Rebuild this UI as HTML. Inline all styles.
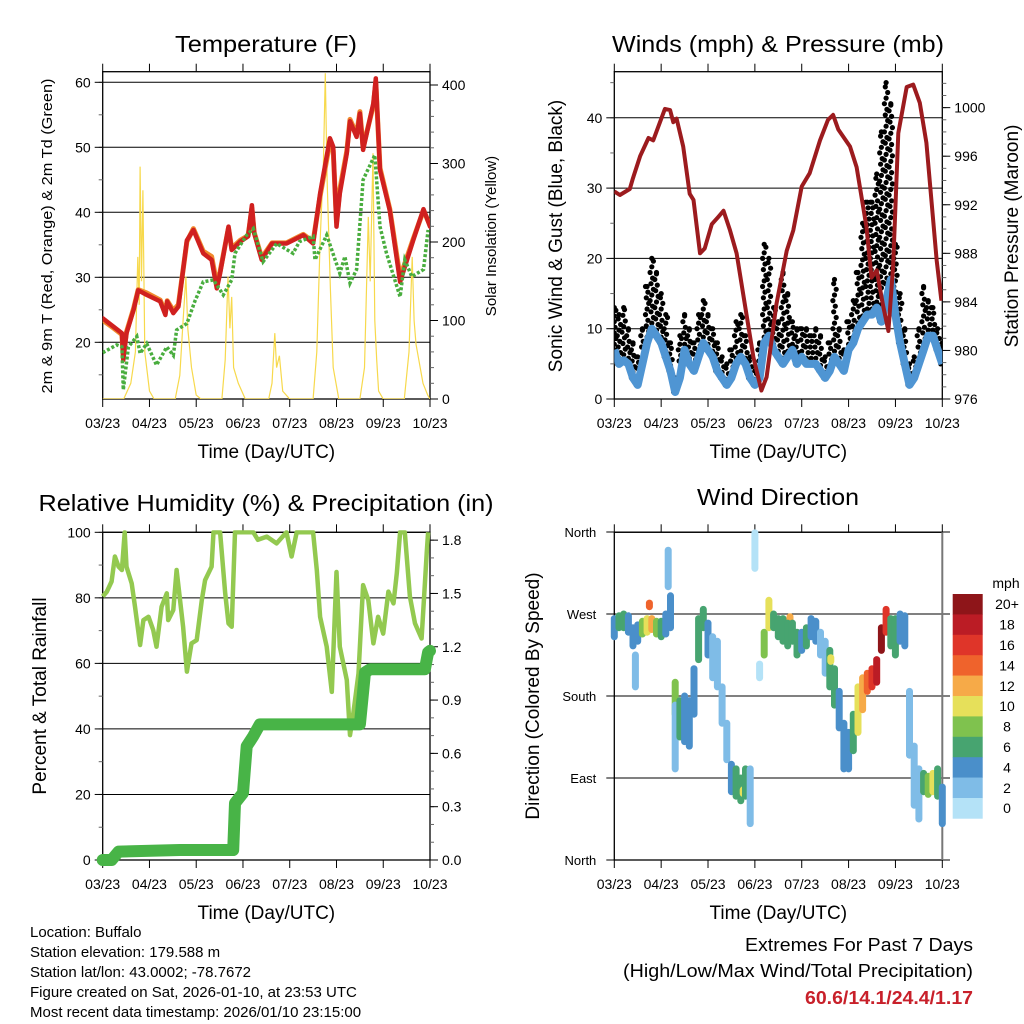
<!DOCTYPE html>
<html><head><meta charset="utf-8">
<style>
html,body{margin:0;padding:0;background:#fff;}
svg{display:block;font-family:"Liberation Sans",sans-serif;}
</style></head>
<body>
<svg id="fig" width="1024" height="1024" viewBox="0 0 1024 1024" xmlns="http://www.w3.org/2000/svg">
<rect x="0" y="0" width="1024" height="1024" fill="#fff"/>
</svg>
<script>
// ---------- DATA ----------
const dayLabels = ["03/23","04/23","05/23","06/23","07/23","08/23","09/23","10/23"];
// Temperature (F)
const tempT = [0,0.23,0.41,0.44,0.51,0.66,0.76,0.94,1.23,1.34,1.38,1.51,1.62,1.80,1.94,2.15,2.33,2.44,2.51,2.69,2.76,2.94,3.11,3.19,3.24,3.40,3.62,3.93,4.29,4.50,4.65,4.86,4.93,5.00,5.07,5.22,5.29,5.43,5.50,5.57,5.79,5.84,5.93,6.14,6.36,6.64,6.86,7.0];
const temp2m = [23.7,22.4,21.4,17.3,21.4,25,28,27.3,26.3,24.2,26.3,24.5,25.5,35.7,37.3,33.7,32.7,28.3,30.6,37.8,34.2,35.5,36.3,41.1,36.8,32.7,35.2,35.2,36.5,35.2,42.9,51.4,50.1,37.8,42.9,49.1,54,51.6,55.2,49.6,56.8,60.6,46.5,40.3,29.3,35.7,40.5,37.8];
const temp9m = [23.4,22.2,21.2,17.8,21.6,25.2,28.1,27.6,26.5,24.6,26.4,24.9,25.8,35.5,37.5,34.0,33.2,29.0,30.9,37.6,34.5,35.7,36.4,40.6,36.9,33.0,35.3,35.3,36.6,35.5,42.5,50.8,49.5,38.5,43.5,49.4,54.3,52.0,55.5,50.0,56.5,60.0,46.8,40.5,30.0,35.9,40.3,38.0];
const dewT = [0,0.3,0.41,0.44,0.55,0.73,0.80,0.94,1.15,1.37,1.51,1.58,1.80,1.97,2.15,2.37,2.58,2.76,2.83,3.08,3.22,3.43,3.72,4.07,4.21,4.50,4.54,4.79,5.07,5.18,5.29,5.43,5.57,5.82,5.93,6.07,6.36,6.46,6.61,6.86,6.96];
const dew2m = [18.4,19.6,19.3,12.7,19.3,20.9,18.3,19.8,16.5,19.3,18.0,21.9,22.9,26.3,29.3,29.6,27.3,29.6,33.7,36.5,37.5,32.4,35.2,33.7,35.5,36.3,32.7,36.5,30.6,33.2,29.1,31.2,45,48.8,37.8,33.7,27,32.7,30.1,31.2,37.3];
const solarT = [0,0.45,0.6,0.7,0.75,0.78,0.8,0.83,0.86,0.9,1.0,1.1, 1.55,1.65,1.72,1.78,1.82,1.9,2.0,2.1, 2.55,2.62,2.68,2.72,2.76,2.8,2.9,3.05, 3.55,3.62,3.68,3.72,3.78,3.85,4.0, 4.5,4.58,4.65,4.72,4.76,4.8,4.87,4.93,5.05, 5.5,5.6,5.68,5.72,5.78,5.82,5.86,5.9,6.0, 6.45,6.55,6.62,6.66,6.7,6.76,6.85,6.95,7.0];
const solarW = [0,0,20,60,181,120,296,150,266,60,10,0, 0,30,100,156,90,40,5,0, 0,50,156,90,130,40,20,0, 0,20,84,40,55,10,0, 0,60,200,300,415,280,140,40,0, 0,40,232,150,313,100,50,10,0, 0,60,181,100,70,50,20,5,0];
// Winds (mph) & pressure (mb)
const presT = [0,0.12,0.33,0.40,0.55,0.73,0.83,1.08,1.19,1.26,1.33,1.47,1.61,1.69,1.83,1.93,2.08,2.22,2.33,2.47,2.61,2.82,2.97,3.14,3.25,3.46,3.68,3.82,4.0,4.17,4.39,4.56,4.67,4.78,5.03,5.17,5.38,5.49,5.60,5.74,5.85,5.95,6.06,6.24,6.38,6.52,6.66,6.88,6.98];
const presMb = [993.1,992.8,993.3,994.2,996,997.5,997.3,999.9,999.8,998.8,999.1,996.8,992.9,992.4,988,988.4,990.4,991,991.5,989.9,988,983,979.4,976.7,977.8,983.8,988.2,989.9,993.5,994.6,997.3,999,999.4,998.2,996.8,995.1,990.2,986,986.6,983.6,981.6,986.9,997.9,1001.7,1001.9,1000.4,997.1,987.4,984.1];
const windSpd = [7,5,5.5,5,3,2,5,8,10,9,8,6,4,1,3,7,5,4,6,8,7,6,4,3,2,3,5,6,5,3,2,3,8,9,7,6,5,6,7,5,6,5,5,5,4,3,4,6,5,4,7,8,10,11,12,12,13,11,14,17,12,8,5,2,3,5,7,9,9,7,5];
const windGust = [13,12,13,10,8,6,10,16,20,18,15,12,8,3,9,12,10,8,12,14,12,10,8,6,5,7,11,12,9,6,4,8,22,20,13,11,18,15,11,10,10,10,9,10,9,6,8,17,10,7,11,14,18,25,28,28,32,38,45,42,22,15,10,5,6,10,16,14,13,10,8];
// Relative humidity (%) & precipitation (in)
const rhT = [0,0.09,0.19,0.26,0.34,0.41,0.47,0.51,0.62,0.69,0.80,0.87,0.98,1.08,1.15,1.26,1.37,1.40,1.51,1.58,1.72,1.80,1.90,2.01,2.12,2.19,2.33,2.37,2.51,2.62,2.69,2.76,2.83,3.22,3.32,3.51,3.72,3.93,4.04,4.15,4.50,4.58,4.65,4.79,4.90,5.0,5.07,5.22,5.29,5.36,5.47,5.57,5.68,5.79,5.89,6.0,6.11,6.22,6.29,6.36,6.46,6.57,6.68,6.82,6.93,6.96];
const rhPct = [80.4,81.9,85,92.6,89.5,88.5,100,89.5,84.4,77.3,65.6,73.2,74.2,70.2,65.1,77.3,81.4,73.2,76.3,88.5,71.2,57.5,66.1,67.1,79.3,85.4,89.5,100,100,81.4,72.2,71.2,100,100,97.7,98.7,96.6,100,92.6,100,100,88.5,74.2,65.1,51.3,87.9,65.1,54.9,38.1,44.7,56.9,83.9,79.3,66.1,74.2,69.1,81.9,78.3,87.5,100,100,80.4,72.2,67.6,93.6,100];
const precT = [0,0.19,0.34,1.65,2.79,2.83,3.0,3.08,3.22,3.36,5.50,5.61,5.72,6.89,6.96,7.0];
const precIn = [0,0,0.047,0.056,0.056,0.32,0.377,0.64,0.697,0.763,0.763,1.055,1.074,1.074,1.168,1.177];
// Wind direction (deg) colored by speed
const dirT  = [0,0.1,0.2,0.3,0.4,0.45,0.5,0.6,0.7,0.75,0.8,0.9,1.0,1.1,1.15,1.2,1.3,1.3,1.4,1.5,1.6,1.7,1.8,1.9,2.0,2.1,2.2,2.3,2.4,2.5,2.6,2.7,2.75,2.8,2.9,3.0,3.1,3.2,3.3,3.4,3.5,3.6,3.75,3.7,3.8,3.9,4.0,4.1,4.2,4.3,4.4,4.5,4.6,4.62,4.7,4.8,4.9,5.0,5.1,5.2,5.3,5.4,5.5,5.6,5.7,5.8,5.9,6.0,6.1,6.2,6.3,6.4,6.5,6.6,6.7,6.8,6.9,7.0];
const dirLo = [245,255,255,250,235,190,240,248,250,278,253,248,245,248,300,255,160,100,135,130,125,160,220,255,225,200,190,150,110,75,70,65,73,70,40,320,200,225,255,255,245,240,263,235,240,225,230,235,245,240,225,205,190,218,170,145,100,100,120,140,165,185,190,195,230,250,235,225,240,235,115,60,45,75,72,75,70,40];
const dirHi = [265,268,270,268,255,225,258,262,265,282,265,262,262,270,340,290,195,170,175,180,175,210,265,275,260,245,240,190,150,105,100,90,77,100,100,359,215,250,285,270,265,265,267,260,260,250,250,255,265,262,250,240,230,222,210,185,150,140,160,190,200,205,210,220,255,275,265,265,270,268,185,125,100,95,92,95,100,80];
const dirSpd = [5,6,6,5,4,2,4,8,11,14,12,8,6,4,2,4,8,2,7,4,4,5,6,7,4,3,2,2,2,5,6,7,10,6,2,1,1,9,10,7,6,7,12,6,6,6,5,6,4,4,3,3,7,10,6,4,4,5,7,11,13,15,16,19,20,17,7,6,4,5,2,2,3,7,9,10,6,4];
const cbLabels = ["0","2","4","6","8","10","12","14","16","18","20+"];
const cbColors = ["#b4e2f7","#7fbce7","#4a8fca","#47a470","#7fc24e","#e6e05a","#f6aa48","#ef632c","#df3529","#bb1c25","#8e1519"];

// ---------- HELPERS ----------
const NS = "http://www.w3.org/2000/svg";
const svg = document.getElementById("fig");
function el(tag, attrs, parent){
  const e = document.createElementNS(NS, tag);
  for (const k in attrs) e.setAttribute(k, attrs[k]);
  (parent||svg).appendChild(e);
  return e;
}
function txt(x,y,s,size,anchor,parent,extra){
  const e = el("text",{x:x,y:y,"font-size":size,"text-anchor":anchor||"middle",fill:"#000"},parent);
  if (extra) for (const k in extra) e.setAttribute(k, extra[k]);
  e.textContent = s;
  return e;
}
function group(name){
  const g = el("g",{});
  
  
  return g;
}
function pathFrom(xs, ys){
  let d = "";
  for (let i=0;i<xs.length;i++) d += (i?"L":"M")+xs[i].toFixed(1)+","+ys[i].toFixed(1);
  return d;
}
function xScale(x0,x1){ return t => x0 + t*(x1-x0)/7; }

function axesFrame(P, name){
  const g = group(name+"-axes");
  for (let i=0;i<8;i++){
    const x = P.sx(i);
    el("line",{x1:x,y1:P.y1,x2:x,y2:P.y1+8,stroke:"#000","stroke-width":1},g);
    el("line",{x1:x,y1:P.y0,x2:x,y2:P.y0-8,stroke:"#000","stroke-width":1},g);
    const t = txt(x,P.y1+29,dayLabels[i],14,"middle",g);
    
    
  }
  el("rect",{x:P.x0,y:P.y0,width:P.x1-P.x0,height:P.y1-P.y0,fill:"none",stroke:"#000","stroke-width":1.3},g);
  const xt = txt((P.x0+P.x1)/2,P.y1+59,"Time (Day/UTC)",19,"middle",g);
  
  
  return g;
}
function leftAxis(P, g, ticks, labels, minor, yf, grid){
  for (const m of minor){ const y=yf(m); if(y<P.y0-0.5||y>P.y1+0.5) continue;
    el("line",{x1:P.x0,y1:y,x2:P.x0-4,y2:y,stroke:"#666","stroke-width":1},g); }
  ticks.forEach((v,i)=>{
    const y = yf(v);
    el("line",{x1:P.x0,y1:y,x2:P.x0-8,y2:y,stroke:"#000","stroke-width":1},g);
    if (grid) el("line",{x1:P.x0,y1:y,x2:P.x1,y2:y,stroke:"#000","stroke-width":1},g);
    const t = txt(P.x0-12,y+5,labels[i],14,"end",g);
    
    
  });
}
function rightAxis(P, g, ticks, labels, minor, yf){
  for (const m of minor){ const y=yf(m); if(y<P.y0-0.5||y>P.y1+0.5) continue;
    el("line",{x1:P.x1,y1:y,x2:P.x1+4,y2:y,stroke:"#666","stroke-width":1},g); }
  ticks.forEach((v,i)=>{
    const y = yf(v);
    el("line",{x1:P.x1,y1:y,x2:P.x1+8,y2:y,stroke:"#000","stroke-width":1},g);
    const t = txt(P.x1+12,y+5,labels[i],14,"start",g);
    
    
  });
}
function rotTitle(x,y,s,size,deg,g,len){
  const t = txt(x,y,s,size,"middle",g,{transform:"rotate("+deg+" "+x+" "+y+")"});
  if (len){ t.setAttribute("textLength",len); t.setAttribute("lengthAdjust","spacingAndGlyphs"); }
  return t;
}
function range(a,b,s){ const r=[]; for(let v=a; v<=b+1e-9; v+=s) r.push(+v.toFixed(4)); return r; }

// ---------- TITLES ----------
[["Temperature (F)",266,52,182],["Winds (mph) & Pressure (mb)",778,52,332],
 ["Relative Humidity (%) & Precipitation (in)",266,511,455],["Wind Direction",778,505,162]].forEach(a=>{
  const t = txt(a[1],a[2],a[0],23,"middle");
  t.setAttribute("textLength",a[3]); t.setAttribute("lengthAdjust","spacingAndGlyphs");
  
  
});

// ---------- PANEL 1: TEMPERATURE ----------
{
  const P = {x0:102.7,x1:430,y0:71.7,y1:399}; P.sx = xScale(P.x0,P.x1);
  const yT = v => 342.3-(v-20)*6.5;
  const yS = v => 399 - v*0.785;
  const g = axesFrame(P,"temperature");
  leftAxis(P,g,[20,30,40,50,60],["20","30","40","50","60"],range(15,60,5),yT,true);
  rightAxis(P,g,[0,100,200,300,400],["0","100","200","300","400"],range(0,420,20),yS);
  const lt = rotTitle(52,236,"2m & 9m T (Red, Orange) & 2m Td (Green)",15,-90,g,315);
  
  
  const rt = rotTitle(496,236,"Solar Insolation (Yellow)",15,-90,g);
  
  
  const cg = group("temperature-series");
  const clip = el("clipPath",{id:"c1"}); el("rect",{x:P.x0,y:P.y0,width:P.x1-P.x0,height:P.y1-P.y0},clip);
  cg.setAttribute("clip-path","url(#c1)");
  const sol = el("path",{d:pathFrom(solarT.map(P.sx),solarW.map(yS)),fill:"none",stroke:"#f7d94c","stroke-width":1.2},cg);
  
  
  const o = el("path",{d:pathFrom(tempT.map(P.sx),temp9m.map(yT)),fill:"none",stroke:"#f08a2e","stroke-width":5,"stroke-linejoin":"round","stroke-linecap":"round"},cg);
  
  
  const r = el("path",{d:pathFrom(tempT.map(P.sx),temp2m.map(yT)),fill:"none",stroke:"#d0201f","stroke-width":4.5,"stroke-linejoin":"round","stroke-linecap":"round"},cg);
  
  
  const d = el("path",{d:pathFrom(dewT.map(P.sx),dew2m.map(yT)),fill:"none",stroke:"#49ad3e","stroke-width":3.5,"stroke-dasharray":"3 2"},cg);
  
  
}

// ---------- PANEL 2: WINDS & PRESSURE ----------
{
  const P = {x0:614.3,x1:942.3,y0:71.7,y1:399}; P.sx = xScale(P.x0,P.x1);
  const yW = v => 399 - v*7.03;
  const yP = p => 399 - (p-976)*12.14;
  const g = axesFrame(P,"winds");
  leftAxis(P,g,[0,10,20,30,40],["0","10","20","30","40"],range(0,45,5),yW,true);
  rightAxis(P,g,[976,980,984,988,992,996,1000],["976","980","984","988","992","996","1000"],range(976,1002,1),yP);
  const lt = rotTitle(562,236,"Sonic Wind & Gust (Blue, Black)",19,-90,g);
  
  
  const rt = rotTitle(1018,236,"Station Pressure (Maroon)",19,-90,g);
  
  
  const cg = group("wind-series");
  const clip = el("clipPath",{id:"c2"}); el("rect",{x:P.x0,y:P.y0,width:P.x1-P.x0,height:P.y1-P.y0},clip);
  cg.setAttribute("clip-path","url(#c2)");
  const n = windSpd.length;
  const tw = i => i*7/(n-1);
  const gg = el("g",{},cg);
  
  
  for (let i=0;i<n;i++){
    let k=0;
    for (let v=windSpd[i]; v<=windGust[i]+0.01; v+=0.8){
      const off = [-0.035,0.0,0.035,-0.017,0.017][(k++)%5];
      el("circle",{cx:P.sx(Math.min(7,Math.max(0,tw(i)+off))).toFixed(1),cy:yW(v).toFixed(1),r:2.6,fill:"#000"},gg);
    }
    el("circle",{cx:P.sx(tw(i)).toFixed(1),cy:yW(windGust[i]).toFixed(1),r:2.6,fill:"#000"},gg);
  }
  const b = el("path",{d:pathFrom(windSpd.map((v,i)=>P.sx(tw(i))),windSpd.map(yW)),fill:"none",stroke:"#4f95d3","stroke-width":8,"stroke-linejoin":"round"},cg);
  
  
  const p = el("path",{d:pathFrom(presT.map(P.sx),presMb.map(yP)),fill:"none",stroke:"#9c1b1e","stroke-width":4,"stroke-linejoin":"round"},cg);
  
  
}

// ---------- PANEL 3: RH & PRECIP ----------
{
  const P = {x0:102.7,x1:430,y0:532.3,y1:860}; P.sx = xScale(P.x0,P.x1);
  const yR = v => 860 - v*3.277;
  const yPr = v => 860 - v*177.7;
  const g = axesFrame(P,"humidity");
  leftAxis(P,g,[0,20,40,60,80,100],["0","20","40","60","80","100"],range(0,100,10),yR,true);
  rightAxis(P,g,[0,0.3,0.6,0.9,1.2,1.5,1.8],["0.0","0.3","0.6","0.9","1.2","1.5","1.8"],range(0,1.8,0.1),yPr);
  const lt = rotTitle(46,696,"Percent & Total Rainfall",19,-90,g);
  
  
  const cg = group("humidity-series");
  const clip = el("clipPath",{id:"c3"}); el("rect",{x:P.x0-8,y:P.y0-2,width:P.x1-P.x0+16,height:P.y1-P.y0+10},clip);
  cg.setAttribute("clip-path","url(#c3)");
  const rh = el("path",{d:pathFrom(rhT.map(P.sx),rhPct.map(yR)),fill:"none",stroke:"#93c950","stroke-width":4.5,"stroke-linejoin":"round"},cg);
  
  
  const pr = el("path",{d:pathFrom(precT.map(P.sx),precIn.map(yPr)),fill:"none",stroke:"#48b447","stroke-width":12,"stroke-linejoin":"round","stroke-linecap":"round"},cg);
  
  
}

// ---------- PANEL 4: WIND DIRECTION ----------
{
  const P = {x0:614.3,x1:942.3,y0:532.3,y1:860}; P.sx = xScale(P.x0,P.x1);
  const yD = d => 860 - d*0.9111;
  const g = axesFrame(P,"direction");
  const dirTicks=[0,90,180,270,360], dirLab=["North","East","South","West","North"];
  dirTicks.forEach((v,i)=>{
    const y=yD(v);
    el("line",{x1:P.x0-8,y1:y,x2:950,y2:y,stroke:"#000","stroke-width":1},g);
    const t = txt(P.x0-18,y+5,dirLab[i],13,"end",g);
    
    
  });
  el("line",{x1:P.x1,y1:P.y0,x2:P.x1,y2:P.y1,stroke:"#777","stroke-width":2},g);
  const lt = rotTitle(539,696,"Direction (Colored By Speed)",19,-90,g);
  
  
  const cg = group("direction-points");
  const col = s => cbColors[Math.min(10,Math.floor(s/2))];
  for (let i=0;i<dirT.length;i++){
    const x = P.sx(dirT[i]);
    const seg = el("line",{x1:x.toFixed(1),y1:yD(dirLo[i]).toFixed(1),x2:x.toFixed(1),y2:yD(dirHi[i]).toFixed(1),stroke:col(dirSpd[i]),"stroke-width":7,"stroke-linecap":"round"},cg);
    
    
  }
  const cb = group("speed-colorbar");
  const bx=952.7, bw=30, top=594, h=20.4;
  for (let k=0;k<11;k++){
    const idx = 10-k;
    const y = top + k*h;
    const r = el("rect",{x:bx,y:y.toFixed(1),width:bw,height:(h+0.3).toFixed(1),fill:cbColors[idx]},cb);
    
    
    const t = txt(1007,y+h/2+5,cbLabels[idx],14,"middle",cb);
    
    
  }
  const u = txt(1006,588,"mph",14,"middle",cb);
  
  
}

// ---------- FOOTER ----------
{
  const f = group("station-info");
  ["Location: Buffalo","Station elevation: 179.588 m","Station lat/lon: 43.0002; -78.7672","Figure created on Sat, 2026-01-10, at 23:53 UTC","Most recent data timestamp: 2026/01/10 23:15:00"].forEach((s,i)=>{
    const t = txt(30,937+i*20,s,15,"start",f);
    
    
  });
  const e = group("extremes-info");
  const a = txt(973,951,"Extremes For Past 7 Days",18,"end",e,{textLength:228,lengthAdjust:"spacingAndGlyphs"});
  
  
  const b = txt(973,977,"(High/Low/Max Wind/Total Precipitation)",18,"end",e,{textLength:350,lengthAdjust:"spacingAndGlyphs"});
  
  
  const c = txt(973,1004,"60.6/14.1/24.4/1.17",18,"end",e,{fill:"#c8202a","font-weight":"bold",textLength:168,lengthAdjust:"spacingAndGlyphs"});
  
  
}
</script>
</body></html>
